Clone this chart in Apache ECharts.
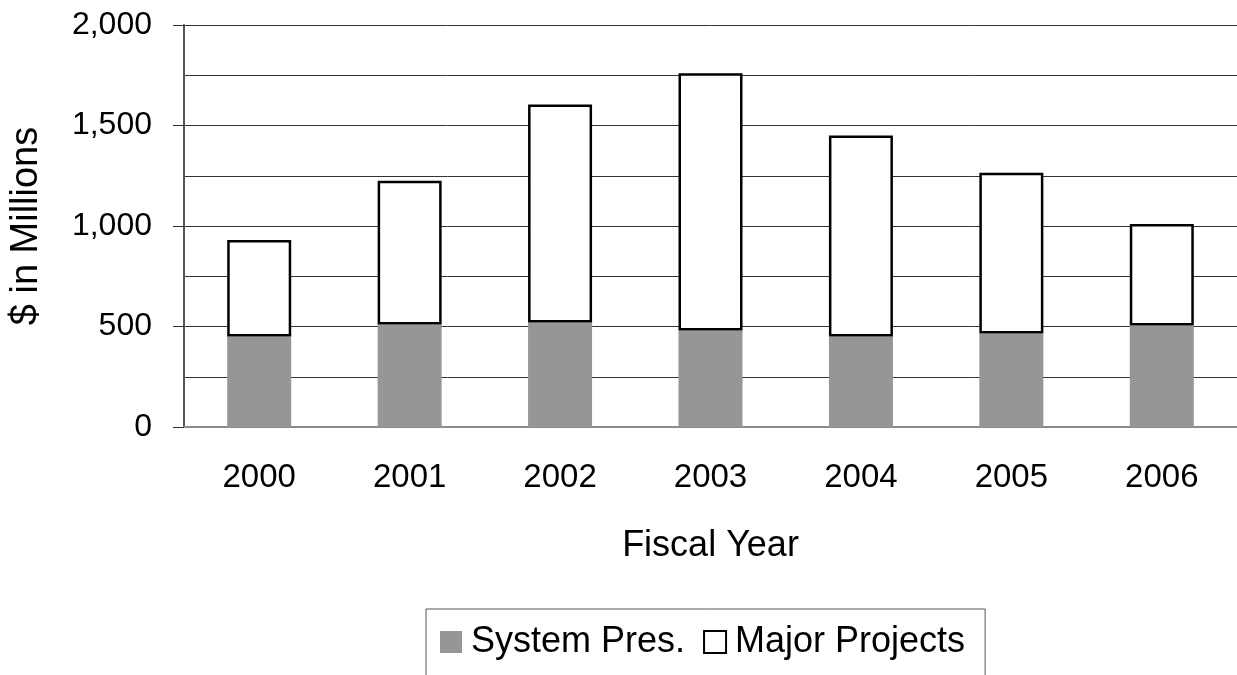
<!DOCTYPE html>
<html>
<head>
<meta charset="utf-8">
<title>Funding by Fiscal Year</title>
<script src="https://cdn.jsdelivr.net/npm/echarts@6/dist/echarts.min.js"></script>
<style>
  html, body { margin: 0; padding: 0; background: #fff; }
  #chart { width: 1237px; height: 675px; }
</style>
</head>
<body>
<div id="chart"></div>
<script>
// Fiscal years on the category axis
const years = ['2000', '2001', '2002', '2003', '2004', '2005', '2006'];
// System preservation spending ($ millions)
const systemPres = [450, 510, 520, 480, 450, 465, 505];
// Major projects spending ($ millions), stacked on top of system preservation
const majorProjects = [480, 715, 1085, 1280, 1000, 800, 505];

const FONT = '"Liberation Sans", Arial, sans-serif';

const chart = echarts.init(document.getElementById('chart'));
chart.setOption({
  animation: false,
  backgroundColor: '#ffffff',
  textStyle: { fontFamily: FONT, color: '#000' },
  grid: { left: 180, right: 0, top: 25, bottom: 248, containLabel: false },
  legend: {
    left: 426,
    top: 609,
    itemWidth: 22,
    itemHeight: 22,
    itemGap: 18,
    padding: [15, 20, 40, 14],
    borderColor: '#555',
    borderWidth: 1,
    textStyle: { fontFamily: FONT, fontSize: 36, color: '#000', padding: [0, 0, 0, 4] },
    data: [
      { name: 'System Pres.', icon: 'rect' },
      { name: 'Major Projects', icon: 'rect' }
    ]
  },
  xAxis: {
    type: 'category',
    data: years,
    name: 'Fiscal Year',
    nameLocation: 'middle',
    nameGap: 101,
    nameTextStyle: { fontFamily: FONT, fontSize: 36, color: '#000' },
    axisLine: { lineStyle: { color: '#8c8c8c', width: 2 } },
    axisTick: { show: false },
    axisLabel: { fontFamily: FONT, fontSize: 33, color: '#000', margin: 34 },
    splitLine: { show: false }
  },
  yAxis: {
    type: 'value',
    min: 0,
    max: 2000,
    interval: 500,
    name: '$ in Millions',
    nameLocation: 'middle',
    nameGap: 138,
    nameRotate: 90,
    nameTextStyle: { fontFamily: FONT, fontSize: 38, color: '#000' },
    axisLine: { show: true, lineStyle: { color: '#555', width: 2 } },
    axisTick: { show: true, length: 11, lineStyle: { color: '#333', width: 1 } },
    axisLabel: {
      fontFamily: FONT, fontSize: 32, color: '#000', margin: 32,
      formatter: v => v.toLocaleString('en-US')
    },
    splitLine: { show: true, lineStyle: { color: '#333', width: 1 } },
    minorTick: { show: false, splitNumber: 2 },
    minorSplitLine: { show: true, lineStyle: { color: '#333', width: 1 } }
  },
  series: [
    {
      name: 'System Pres.',
      type: 'bar',
      stack: 'total',
      barWidth: 64,
      data: systemPres,
      itemStyle: { color: '#969696' }
    },
    {
      name: 'Major Projects',
      type: 'bar',
      stack: 'total',
      barWidth: 64,
      data: majorProjects,
      itemStyle: { color: '#ffffff', borderColor: '#000', borderWidth: 2.5 }
    }
  ]
});
</script>
</body>
</html>
